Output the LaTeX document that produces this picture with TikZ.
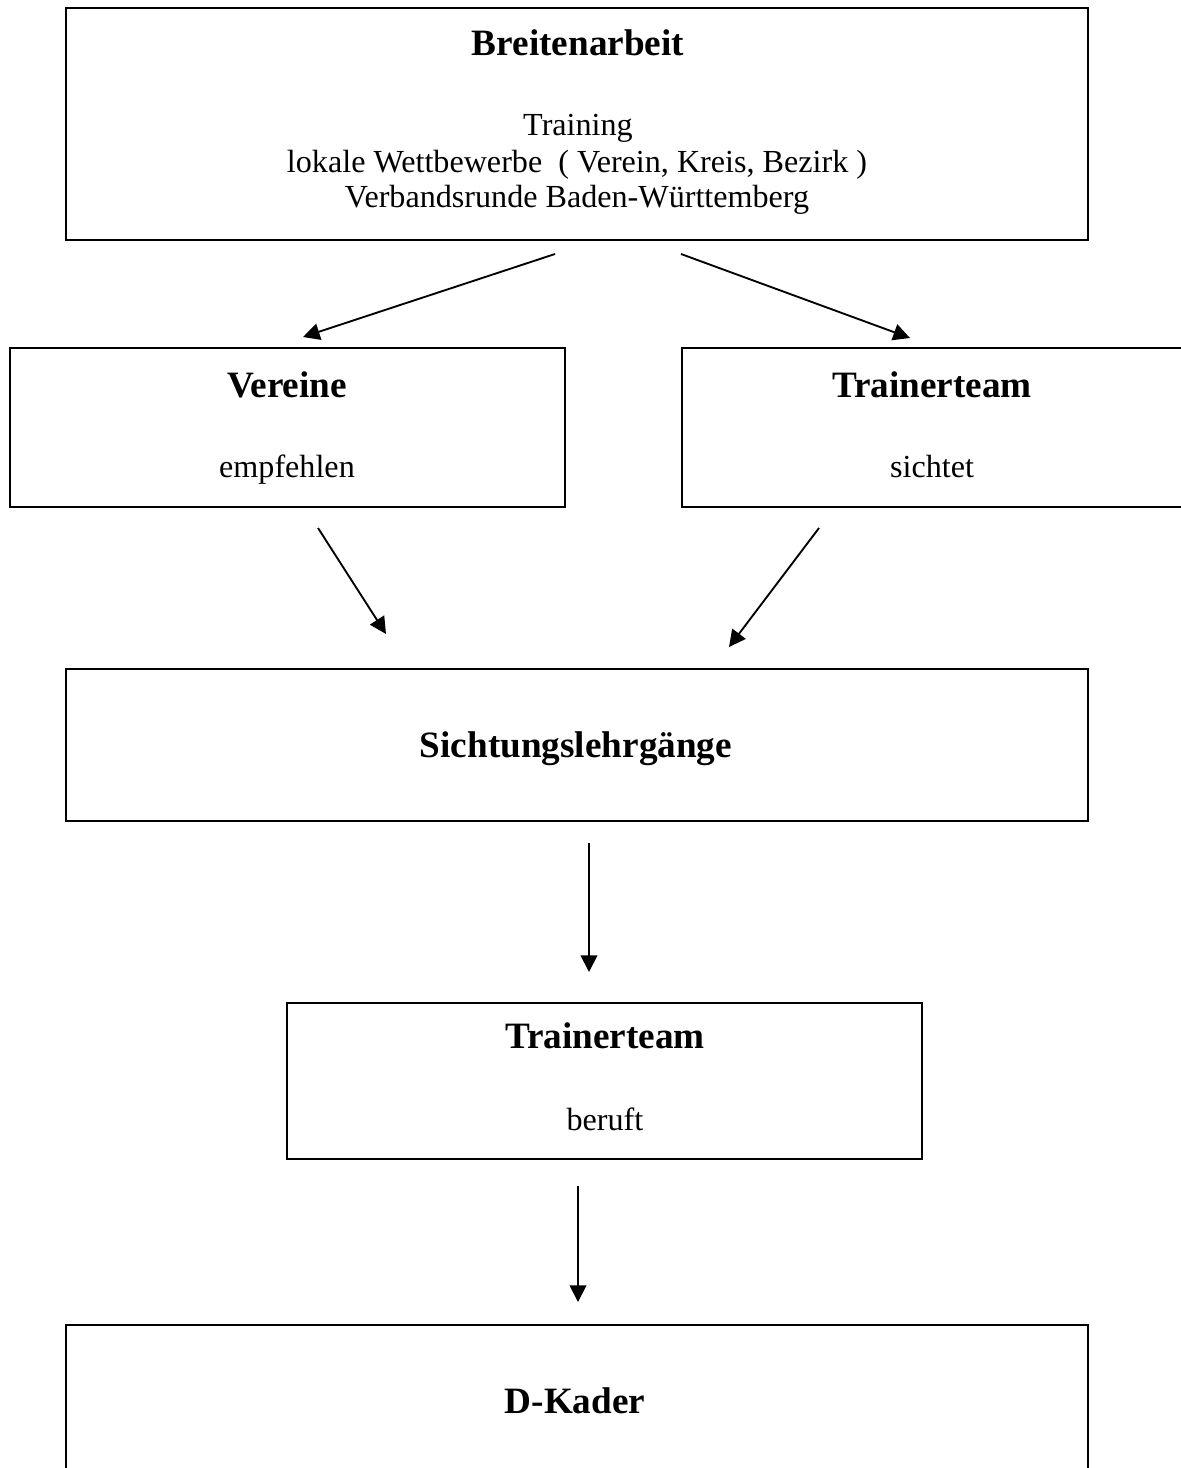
\documentclass[tikz,border=0pt]{standalone}
\usepackage{fontspec}
\setmainfont{Liberation Serif}
\usetikzlibrary{arrows.meta}

\tikzset{
  box/.style={draw, line width=1.5pt, inner sep=0pt},
  pfeil/.style={line width=1.4pt, -{Triangle[length=12.5pt,width=12.5pt]}},
  kopf/.style={anchor=base, font=\fontsize{27.9}{30}\selectfont\bfseries},
  zeile/.style={anchor=base, font=\fontsize{24.1}{27}\selectfont}
}

\begin{document}
\begin{tikzpicture}[x=0.75pt,y=0.75pt,yscale=-1,xscale=1]
\useasboundingbox (0,0) rectangle (1181,1468);

%Boxes
\node [box, minimum width=1022*0.75pt, minimum height=232*0.75pt] (breit) at (577,124) {};
\node [box, minimum width=555*0.75pt, minimum height=159*0.75pt] (vereine) at (287.5,427.5) {};
\node [box, minimum width=500*0.75pt, minimum height=159*0.75pt] (sicht) at (932,427.5) {};
\node [box, minimum width=1022*0.75pt, minimum height=152*0.75pt] (lehrg) at (577,745) {};
\node [box, minimum width=635*0.75pt, minimum height=156*0.75pt] (beruf) at (604.5,1081) {};
\node [box, minimum width=1022*0.75pt, minimum height=175*0.75pt] (kader) at (577,1412.5) {};

% Text Node
\node [kopf] (breitT) at (578,55) {Breitenarbeit};
\node [zeile] (breitA) at (578,135) {Training};
\node [zeile] (breitB) at (577,172) {lokale Wettbewerbe\ \ ( Verein, Kreis, Bezirk )};
\node [zeile] (breitC) at (577,207) {Verbandsrunde Baden-Württemberg};
% Text Node
\node [kopf] (vereineT) at (287,397) {Vereine};
\node [zeile] (vereineA) at (287,477) {empfehlen};
% Text Node
\node [kopf] (sichtT) at (932,397) {Trainerteam};
\node [zeile] (sichtA) at (932,477) {sichtet};
% Text Node
\node [kopf] (lehrgT) at (576,757) {Sichtungslehrgänge};
% Text Node
\node [kopf] (berufT) at (605,1048) {Trainerteam};
\node [zeile] (berufA) at (605,1130) {beruft};
% Text Node
\node [kopf] (kaderT) at (575,1413) {D-Kader};

%Arrow ends
\coordinate (p1a) at (555,254);
\coordinate (p1b) at (303,337);
\coordinate (p2a) at (681,254);
\coordinate (p2b) at (910,338);
\coordinate (p3a) at (318,528);
\coordinate (p3b) at (386,634);
\coordinate (p4a) at (819,528);
\coordinate (p4b) at (729,647);
\coordinate (p5a) at (589,843);
\coordinate (p5b) at (589,972);
\coordinate (p6a) at (578,1186);
\coordinate (p6b) at (578,1302);

%Straight Lines
\draw [pfeil] (p1a) -- (p1b);
\draw [pfeil] (p2a) -- (p2b);
\draw [pfeil] (p3a) -- (p3b);
\draw [pfeil] (p4a) -- (p4b);
\draw [pfeil] (p5a) -- (p5b);
\draw [pfeil] (p6a) -- (p6b);

\end{tikzpicture}
\end{document}
